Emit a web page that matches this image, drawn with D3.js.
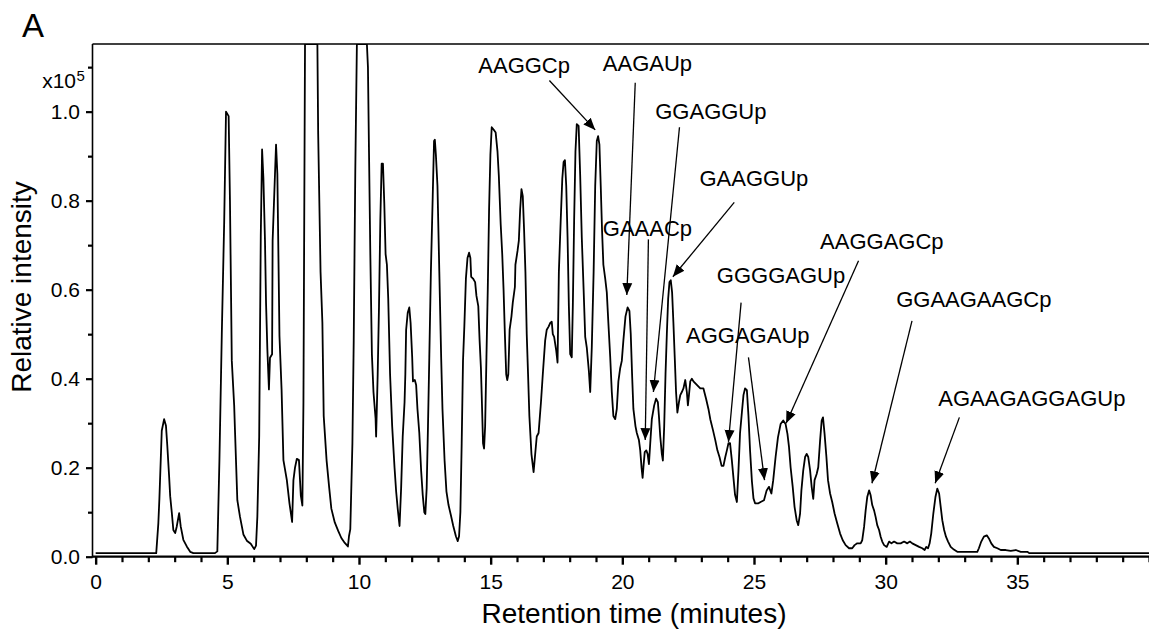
<!DOCTYPE html>
<html><head><meta charset="utf-8">
<script src="https://cdn.jsdelivr.net/npm/d3@7"></script>
<style>
html,body{margin:0;padding:0;background:#fff;}
svg{display:block;font-family:"Liberation Sans",Arial,sans-serif;}
</style></head>
<body><svg id="chart" width="1149" height="629"></svg>
<script>
// Retention time (minutes)
const time = [0,2.30,2.38,2.42,2.51,2.60,2.67,2.72,2.79,2.83,2.89,2.95,3.02,3.08,3.17,3.23,3.33,3.46,3.59,3.71,4.53,4.62,
4.70,4.79,4.88,4.95,5.00,5.05,5.10,5.17,5.26,5.29,5.38,5.48,5.61,5.74,5.89,6.02,6.09,6.14,6.21,6.27,6.32,6.37,6.43,6.47,6.52,6.58,6.62,6.70,6.72,6.81,6.85,6.90,6.98,7.06,7.13,7.26,7.36,7.46,7.51,7.57,7.64,7.72,7.79,7.85,7.89,7.95,8.42,
8.45,8.54,8.61,8.66,8.77,8.87,8.95,9.08,9.21,9.33,9.46,9.58,9.62,9.67,9.75,9.80,9.86,9.92,10.30,10.34,10.38,10.43,10.49,10.55,10.63,10.65,10.71,10.76,10.81,10.86,10.91,10.96,11.01,11.06,11.11,11.18,11.26,11.35,11.41,11.47,11.54,11.60,11.66,11.73,11.76,11.79,11.85,11.91,11.96,12.02,12.05,12.12,12.17,12.22,12.29,12.36,12.42,12.48,12.52,12.57,12.62,12.67,12.73,12.80,12.85,12.88,12.92,12.98,13.05,13.12,13.17,13.25,13.32,13.40,13.49,13.58,13.68,13.75,13.80,13.85,13.90,13.95,14.00,14.06,14.12,14.18,14.23,14.26,14.33,14.41,14.46,14.53,14.58,14.63,14.66,14.71,14.75,14.79,14.84,14.89,14.94,14.99,15.04,15.11,15.19,15.26,15.31,15.38,15.44,15.49,15.54,15.59,15.63,15.67,15.72,15.79,15.84,15.92,15.94,16.02,16.07,16.12,16.17,16.22,16.27,16.32,16.37,16.42,16.47,16.55,16.63,
16.75,16.82,16.91,16.98,17.07,17.13,17.20,17.26,17.32,17.36,17.41,17.49,17.54,17.59,17.66,17.72,17.77,17.82,17.87,17.92,17.97,18.02,18.08,18.12,18.17,18.22,18.27,18.34,18.40,18.46,18.53,18.59,18.65,18.73,18.78,18.84,18.91,18.97,19.03,19.08,19.13,19.18,19.23,19.28,19.35,19.41,19.47,19.54,19.60,19.66,19.73,19.79,19.85,19.92,19.98,20.04,20.12,20.20,20.27,20.32,20.37,20.42,20.50,20.55,20.63,20.68,20.73,20.77,20.80,20.85,20.91,20.96,21.01,21.06,21.12,21.21,21.28,21.35,21.39,21.44,21.50,21.54,21.59,21.64,21.69,21.74,21.79,21.84,21.89,21.94,21.99,22.04,22.09,22.15,22.20,22.26,22.32,22.39,22.45,22.49,22.53,22.58,22.64,22.70,22.83,22.96,23.08,23.18,23.27,23.34,23.44,23.53,23.61,23.69,23.77,23.84,23.91,23.97,24.03,24.09,24.16,24.22,24.28,24.35,24.41,24.47,24.54,24.60,24.66,24.73,24.79,24.85,24.92,24.98,25.04,25.17,25.25,
25.38,25.48,25.57,25.66,25.73,25.82,25.91,26.01,26.11,26.20,26.27,26.33,26.39,26.47,26.54,26.62,26.68,26.75,26.80,26.87,26.94,27.00,27.06,27.13,27.19,27.25,27.30,27.38,27.44,27.51,27.57,27.62,27.68,27.75,27.81,27.89,27.97,28.06,28.16,28.27,28.37,28.48,28.61,28.73,28.82,28.92,29.05,29.11,29.18,29.24,29.30,29.37,29.43,29.49,29.56,29.62,29.68,29.75,29.81,29.87,29.94,30.04,30.13,30.22,30.32,30.44,30.57,30.70,30.82,30.92,31.01,31.14,31.27,31.39,31.48,31.54,31.61,31.67,31.73,31.81,31.89,31.96,32.03,32.09,32.15,32.22,32.29,32.37,32.47,32.59,32.72,33.48,33.54,33.63,33.73,33.84,33.92,34.01,34.11,34.24,34.37,34.56,34.75,34.94,35.13,35.38,35.45,40];

// Relative intensity (x10^5)
const intensity = [0.008,0.008,0.075,0.13,0.283,0.309,0.294,0.25,0.18,0.136,0.10,0.06,0.053,0.068,0.098,0.068,0.038,0.023,0.011,0.008,0.008,0.012,
0.217,0.50,0.75,1.0,0.995,0.99,0.80,0.44,0.34,0.285,0.127,0.09,0.05,0.036,0.029,0.017,0.025,0.09,0.27,0.72,0.915,0.85,0.71,0.57,0.466,0.376,0.447,0.455,0.71,0.86,0.926,0.86,0.496,0.376,0.217,0.172,0.12,0.078,0.172,0.20,0.22,0.217,0.138,0.115,0.345,1.152,1.152,
0.95,0.64,0.525,0.316,0.216,0.154,0.108,0.077,0.058,0.042,0.031,0.023,0.046,0.062,0.255,0.486,0.87,1.152,1.152,1.10,0.91,0.68,0.455,0.37,0.31,0.27,0.41,0.563,0.756,0.883,0.883,0.795,0.68,0.656,0.58,0.41,0.293,0.20,0.147,0.108,0.069,0.154,0.27,0.347,0.41,0.51,0.548,0.56,0.525,0.448,0.394,0.397,0.386,0.332,0.278,0.193,0.139,0.10,0.096,0.154,0.293,0.448,0.64,0.81,0.934,0.937,0.903,0.833,0.64,0.448,0.332,0.216,0.147,0.116,0.093,0.069,0.046,0.035,0.046,0.10,0.255,0.44,0.517,0.625,0.671,0.683,0.671,0.629,0.625,0.617,0.586,0.563,0.486,0.424,0.363,0.255,0.243,0.293,0.448,0.60,0.78,0.903,0.965,0.96,0.953,0.91,0.856,0.748,0.679,0.60,0.50,0.41,0.397,0.41,0.51,0.54,0.571,0.606,0.656,0.687,0.71,0.78,0.826,0.81,0.733,0.64,0.50,0.41,0.316,0.23,0.19,
0.27,0.278,0.347,0.41,0.486,0.51,0.517,0.525,0.528,0.50,0.494,0.463,0.436,0.64,0.756,0.849,0.887,0.891,0.833,0.718,0.563,0.455,0.448,0.563,0.756,0.91,0.972,0.968,0.856,0.718,0.60,0.494,0.47,0.417,0.37,0.47,0.64,0.833,0.934,0.945,0.926,0.833,0.733,0.656,0.625,0.594,0.525,0.448,0.37,0.316,0.309,0.332,0.394,0.424,0.44,0.486,0.54,0.56,0.552,0.50,0.41,0.332,0.293,0.278,0.262,0.239,0.20,0.177,0.20,0.235,0.239,0.231,0.208,0.255,0.309,0.34,0.355,0.347,0.316,0.27,0.231,0.216,0.293,0.41,0.50,0.579,0.617,0.621,0.594,0.525,0.448,0.37,0.324,0.347,0.363,0.37,0.378,0.397,0.37,0.34,0.363,0.394,0.40,0.394,0.386,0.378,0.378,0.355,0.332,0.309,0.285,0.262,0.239,0.224,0.204,0.204,0.224,0.239,0.255,0.255,0.216,0.177,0.139,0.123,0.193,0.278,0.324,0.363,0.378,0.374,0.316,0.239,0.17,0.131,0.12,0.12,0.123,
0.127,0.149,0.157,0.142,0.172,0.224,0.268,0.298,0.306,0.298,0.276,0.246,0.201,0.157,0.112,0.082,0.071,0.097,0.149,0.194,0.224,0.231,0.224,0.194,0.157,0.13,0.172,0.186,0.201,0.261,0.306,0.313,0.276,0.224,0.172,0.142,0.123,0.097,0.075,0.052,0.037,0.026,0.019,0.019,0.026,0.03,0.03,0.037,0.067,0.104,0.134,0.149,0.138,0.116,0.104,0.089,0.071,0.06,0.045,0.034,0.026,0.022,0.034,0.03,0.034,0.03,0.03,0.034,0.03,0.034,0.03,0.026,0.022,0.019,0.015,0.022,0.019,0.03,0.052,0.097,0.134,0.153,0.142,0.112,0.082,0.06,0.045,0.034,0.022,0.016,0.011,0.011,0.019,0.034,0.045,0.048,0.041,0.03,0.022,0.019,0.015,0.015,0.013,0.015,0.011,0.011,0.008,0.008];

// Tick values
const xMajorTicks = [0,5,10,15,20,25,30,35];
const xMinorTicks = [1,2,3,4,6,7,8,9,11,12,13,14,16,17,18,19,21,22,23,24,26,27,28,29,31,32,33,34,36,37,38,39,40];
const yMajorTicks = [0.0,0.2,0.4,0.6,0.8,1.0];
const yMinorTicks = [0.1,0.3,0.5,0.7,0.9,1.1];

// Annotations: label, text anchor (time, intensity), arrow start and arrow tip
const annLabels = ["AAGGCp","AAGAUp","GGAGGUp","GAAGGUp","GAAACp","GGGGAGUp","AGGAGAUp","AAGGAGCp","GGAAGAAGCp","AGAAGAGGAGUp"];
const annTextT  = [14.53,19.26,21.25,22.93,19.26,23.59,22.42,27.51,30.40,32.00];
const annTextV  = [1.086,1.092,0.983,0.833,0.721,0.614,0.480,0.691,0.560,0.339];
const arrFromT  = [17.23,20.49,22.17,24.25,20.99,24.51,24.79,28.97,31.00,32.80];
const arrFromV  = [1.070,1.065,0.965,0.796,0.713,0.571,0.448,0.665,0.530,0.313];
const arrToT    = [18.97,20.17,21.18,21.92,20.87,24.03,25.40,26.22,29.48,31.88];
const arrToV    = [0.959,0.588,0.370,0.629,0.262,0.258,0.172,0.300,0.165,0.165];

const svg = d3.select("#chart");
const x = d3.scaleLinear().domain([-0.12, 40]).range([92.5, 1149]);
const y = d3.scaleLinear().domain([0, 1.152]).range([556.7, 44]);

svg.append("defs").append("clipPath").attr("id","plotclip")
  .append("rect").attr("x",x.range()[0]).attr("y",y.range()[1]).attr("width",x.range()[1]-x.range()[0]).attr("height",y.range()[0]-y.range()[1]);

const marker = svg.select("defs").append("marker")
  .attr("id","arrowhead").attr("markerUnits","userSpaceOnUse")
  .attr("markerWidth",14).attr("markerHeight",12)
  .attr("refX",12).attr("refY",5).attr("orient","auto")
  .attr("viewBox","0 0 14 10");
marker.append("path").attr("d","M0,0 L12,5 L0,10 Z").attr("fill","#000");

// data line
const pts = time.map((t,i)=>[t,intensity[i]]);
svg.append("path").datum(pts)
  .attr("clip-path","url(#plotclip)")
  .attr("fill","none").attr("stroke","#000").attr("stroke-width",1.8)
  .attr("stroke-linejoin","round")
  .attr("d", d3.line().x(d=>x(d[0])).y(d=>y(d[1])));

// frame: left and top
svg.append("line").attr("x1",x.range()[0]).attr("x2",x.range()[0]).attr("y1",y.range()[1]).attr("y2",y.range()[0]+1)
  .attr("stroke","#000").attr("stroke-width",1.6);
svg.append("line").attr("x1",x.range()[0]).attr("x2",x.range()[1]).attr("y1",y.range()[1]).attr("y2",y.range()[1])
  .attr("stroke","#000").attr("stroke-width",1.6);

// X axis
const gx = svg.append("g").attr("transform",`translate(0,${y(0)})`);
gx.call(d3.axisBottom(x).tickValues(xMinorTicks).tickSize(5.5).tickFormat(""))
  .call(g=>g.select(".domain").remove())
  .call(g=>g.selectAll("line").attr("stroke-width",2.2));
const gx2 = svg.append("g").attr("transform",`translate(0,${y(0)})`);
gx2.call(d3.axisBottom(x).tickValues(xMajorTicks).tickSize(8).tickPadding(9).tickFormat(d3.format("d")))
  .call(g=>g.select(".domain").remove())
  .call(g=>g.selectAll("line").attr("stroke-width",2.4))
  .call(g=>g.selectAll("text").attr("font-size",21).attr("font-family","Liberation Sans, Arial, sans-serif").attr("fill","#000"));
svg.append("line").attr("x1",x.range()[0]).attr("x2",x.range()[1]).attr("y1",y(0)).attr("y2",y(0))
  .attr("stroke","#000").attr("stroke-width",2.2);

// Y axis
const gy = svg.append("g").attr("transform",`translate(${x.range()[0]},0)`);
gy.call(d3.axisLeft(y).tickValues(yMinorTicks).tickSize(4.5).tickFormat(""))
  .call(g=>g.select(".domain").remove())
  .call(g=>g.selectAll("line").attr("stroke-width",2.2));
const gy2 = svg.append("g").attr("transform",`translate(${x.range()[0]},0)`);
gy2.call(d3.axisLeft(y).tickValues(yMajorTicks).tickSize(6.5).tickPadding(6).tickFormat(d3.format(".1f")))
  .call(g=>g.select(".domain").remove())
  .call(g=>g.selectAll("line").attr("stroke-width",2.2))
  .call(g=>g.selectAll("text").attr("font-size",21).attr("font-family","Liberation Sans, Arial, sans-serif").attr("fill","#000"));

// multiplier label
svg.append("text").attr("x",76).attr("y",88).attr("text-anchor","end").attr("font-size",21).text("x10");
svg.append("text").attr("x",76.5).attr("y",81).attr("font-size",15).text("5");

// Panel label
svg.append("text").attr("x",22).attr("y",37).attr("font-size",33).text("A");

// axis titles
svg.append("text").attr("x",634).attr("y",623).attr("text-anchor","middle").attr("font-size",28).text("Retention time (minutes)");
svg.append("text").attr("transform","translate(31,287) rotate(-90)").attr("text-anchor","middle").attr("font-size",28).text("Relative intensity");

// annotations
const ann = svg.append("g");
annLabels.forEach((lab,i)=>{
  ann.append("line")
    .attr("x1",x(arrFromT[i])).attr("y1",y(arrFromV[i]))
    .attr("x2",x(arrToT[i])).attr("y2",y(arrToV[i]))
    .attr("stroke","#000").attr("stroke-width",1.3)
    .attr("marker-end","url(#arrowhead)");
  ann.append("text").attr("x",x(annTextT[i])).attr("y",y(annTextV[i]))
    .attr("font-size",22).text(lab);
});
</script></body></html>
